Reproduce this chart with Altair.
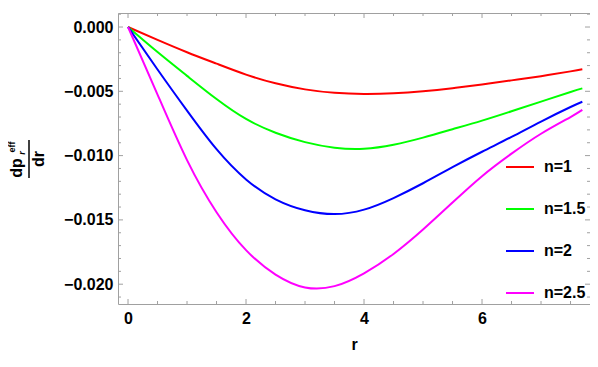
import altair as alt
import pandas as pd

r_vals = [0, 0.5, 1.0, 1.5, 2.0, 2.5, 3.0, 3.5, 4.0, 4.5, 5.0, 5.5, 6.0, 6.5, 7.0, 7.5, 7.7]
n1 = [0, -0.00100, -0.00196, -0.00285, -0.00370, -0.00438, -0.00485, -0.00512, -0.00521,
      -0.00516, -0.00500, -0.00476, -0.00447, -0.00415, -0.00382, -0.00345, -0.00329]
n15 = [0, -0.00195, -0.00380, -0.00560, -0.00715, -0.00822, -0.00895, -0.00938, -0.00946,
       -0.00915, -0.00860, -0.00795, -0.00728, -0.00655, -0.00580, -0.00505, -0.00477]
n2 = [0, -0.00330, -0.00650, -0.00950, -0.01185, -0.01340, -0.01425, -0.01455, -0.01420,
      -0.01330, -0.01215, -0.01090, -0.00970, -0.00855, -0.00735, -0.00622, -0.00581]
n25 = [0, -0.00525, -0.01035, -0.01440, -0.01735, -0.01925, -0.02025, -0.02015, -0.01915,
       -0.01765, -0.01575, -0.01365, -0.01160, -0.00985, -0.00830, -0.00700, -0.00645]

series_names = ["n=1", "n=1.5", "n=2", "n=2.5"]
series_vals = [n1, n15, n2, n25]
colors = ["#ff0000", "#00ff00", "#0000ff", "#ff00ff"]

x_major = [0, 2, 4, 6]
x_minor = [0.5, 1, 1.5, 2.5, 3, 3.5, 4.5, 5, 5.5, 6.5, 7, 7.5]
y_major = [0.0, -0.005, -0.010, -0.015, -0.020]
y_minor = [0.001, -0.001, -0.002, -0.003, -0.004, -0.006, -0.007, -0.008, -0.009,
           -0.011, -0.012, -0.013, -0.014, -0.016, -0.017, -0.018, -0.019, -0.021]

x_domain = [-0.17, 7.83]
y_domain = [-0.02154, 0.00109]

W, H = 472, 291
FONT = "Liberation Sans"
FRAME = "#a0a0a0"
FS = 16

rows = []
for name, vals in zip(series_names, series_vals):
    for r, v in zip(r_vals, vals):
        rows.append({"r": r, "v": v, "n": name})
df = pd.DataFrame(rows)

xs = alt.Scale(domain=x_domain, nice=False, zero=False)
ys = alt.Scale(domain=y_domain, nice=False, zero=False)

lines = alt.Chart(df).mark_line(strokeWidth=2, interpolate="natural").encode(
    x=alt.X("r:Q", scale=xs, title="r",
            axis=alt.Axis(values=x_major, format="d", ticks=False, domain=False, grid=False,
                          labelFont=FONT, labelFontSize=FS, labelFontWeight="bold",
                          labelColor="black", labelPadding=6,
                          titleFont=FONT, titleFontSize=FS, titleFontWeight="bold",
                          titleColor="black", titlePadding=10)),
    y=alt.Y("v:Q", scale=ys, title=None,
            axis=alt.Axis(values=y_major, format=".3f", ticks=False, domain=False, grid=False,
                          labelFont=FONT, labelFontSize=FS, labelFontWeight="bold",
                          labelColor="black", labelPadding=5)),
    color=alt.Color("n:N", scale=alt.Scale(domain=series_names, range=colors),
                    legend=alt.Legend(orient="none", legendX=387, legendY=139, title=None,
                                      symbolType="stroke", symbolSize=784, symbolStrokeWidth=2,
                                      labelFont=FONT, labelFontSize=FS, labelFontWeight="bold",
                                      labelColor="black", labelOffset=9, rowPadding=19,
                                      padding=0)),
)

def tick_layer(values, axis, side, length):
    d = pd.DataFrame({"t": values})
    base = alt.Chart(d).mark_rule(color=FRAME, strokeWidth=1)
    if axis == "x":
        if side == "bottom":
            return base.encode(x=alt.X("t:Q", scale=xs), y=alt.value(H), y2=alt.value(H - length))
        return base.encode(x=alt.X("t:Q", scale=xs), y=alt.value(0), y2=alt.value(length))
    if side == "left":
        return base.encode(y=alt.Y("t:Q", scale=ys), x=alt.value(0), x2=alt.value(length))
    return base.encode(y=alt.Y("t:Q", scale=ys), x=alt.value(W), x2=alt.value(W - length))

ticks = []
for side in ["bottom", "top"]:
    ticks.append(tick_layer(x_major, "x", side, 5))
    ticks.append(tick_layer(x_minor, "x", side, 3))
for side in ["left", "right"]:
    ticks.append(tick_layer(y_major, "y", side, 5))
    ticks.append(tick_layer(y_minor, "y", side, 3))

# y-axis title as fraction  d p_r^eff / d r (rotated)
lab = pd.DataFrame({"a": [0]})
def txt(s, x, y, size, style="normal"):
    return alt.Chart(lab).mark_text(text=s, angle=270, font=FONT, fontSize=size,
                                    fontWeight="bold", fontStyle=style, color="black",
                                    align="center", baseline="middle").encode(
        x=alt.value(x), y=alt.value(y))

title_parts = [
    txt("dp", -101, 155, 16),
    txt("eff", -106, 134, 9),
    txt("r", -96, 140, 9, "italic"),
    alt.Chart(lab).mark_rule(color="black", strokeWidth=1.5).encode(
        x=alt.value(-89), y=alt.value(127), y2=alt.value(165)),
    txt("dr", -79, 146, 16),
]

chart = alt.layer(lines, *ticks, *title_parts).properties(
    width=W, height=H,
    autosize=alt.AutoSizeParams(type="none"),
    padding={"left": 110, "top": 5, "right": 0, "bottom": 55},
).configure_view(stroke=FRAME, strokeWidth=1)

chart.save("out.html", embed_options={"renderer": "svg", "actions": False})
